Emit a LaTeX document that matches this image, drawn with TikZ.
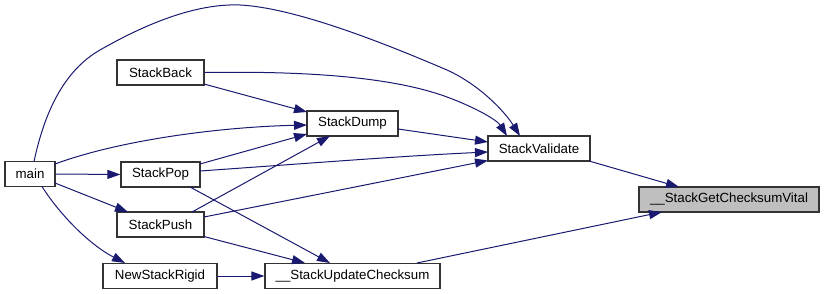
\documentclass[tikz,border=0pt]{standalone}
\usepackage{fontspec}
\setmainfont{Liberation Sans}
\usetikzlibrary{arrows.meta,calc}
\definecolor{edgeblue}{HTML}{191970}
\definecolor{boxline}{HTML}{333333}
\definecolor{focusfill}{HTML}{BFBFBF}
\begin{document}
\begin{tikzpicture}[x=1pt,y=-1pt,
  fn/.style={draw=boxline,line width=1.2pt,fill=white,inner sep=0pt,
    minimum height=25pt,font=\fontsize{13.3}{16}\selectfont},
  focus/.style={fn,fill=focusfill},
  call/.style={draw=edgeblue,line width=1pt,
    -{Triangle[length=13pt,width=9pt,fill=edgeblue]}}]
\useasboundingbox (0,0) rectangle (824,294);

% functions
\node[fn,minimum width=50pt]  (main)     at (30,174)    {main};
\node[fn,minimum width=79pt]  (pop)      at (160.5,174.5) {StackPop};
\node[fn,minimum width=87pt]  (push)     at (160.5,224.5) {StackPush};
\node[fn,minimum width=114pt] (rigid)    at (160,276)   {NewStackRigid};
\node[fn,minimum width=87pt]  (back)     at (160.5,72.5) {StackBack};
\node[fn,minimum width=91pt]  (dump)     at (352.5,123.5) {StackDump};
\node[fn,minimum width=175pt] (update)   at (352.5,276) {\_\_StackUpdateChecksum};
\node[fn,minimum width=102pt] (validate) at (539,148.5) {StackValidate};
\node[focus,minimum width=180pt] (vital) at (729,199.5) {\_\_StackGetChecksumVital};

% calls into __StackGetChecksumVital
\draw[call] ($(validate.center)+(50,12.5)$) -- ($(vital.center)+(-50,-12.5)$);
\draw[call] ($(update.center)+(64.5,-13)$) -- ($(vital.center)+(-67,12.5)$);

% calls into StackValidate
\draw[call] ($(main.center)+(4,-12.5)$)
  .. controls (45,110) and (65,70) .. (100,50)
  .. controls (135,30) and (190,3) .. (240,5)
  .. controls (300,8) and (400,50) .. (447,70)
  .. controls (480,85) and (505,112) .. ($(validate.center)+(-19,-12.5)$);
\draw[call] (back.east)
  .. controls (300,71) and (390,76) .. (447,97)
  .. controls (475,107.3) and (497,120) .. ($(validate.center)+(-32,-12.5)$);
\draw[call] ($(dump.center)+(45.5,5.5)$) -- ($(validate.center)+(-51,-6.5)$);
\draw[call] ($(pop.center)+(39.5,-3.5)$)
  .. controls (300,164) and (400,156) .. ($(validate.center)+(-51,3.5)$);
\draw[call] ($(push.center)+(43.5,-7.5)$)
  .. controls (300,198) and (400,178) .. ($(validate.center)+(-51,12)$);

% calls into StackDump
\draw[call] ($(back.center)+(43.5,11.5)$) -- ($(dump.center)+(-45.5,-11.5)$);
\draw[call] ($(main.center)+(25,-10)$)
  .. controls (120,140) and (220,127) .. ($(dump.center)+(-45.5,1.5)$);
\draw[call] ($(pop.center)+(39.5,-10.5)$) -- ($(dump.center)+(-45.5,10.5)$);
\draw[call] ($(push.center)+(31.5,-12.5)$) -- ($(dump.center)+(-22.5,12.5)$);

% calls from main
\draw[call] (main.east) -- (pop.west);
\draw[call] ($(main.center)+(25,9)$) -- ($(push.center)+(-32.5,-12.5)$);
\draw[call] ($(main.center)+(12,12.5)$)
  .. controls (60,215) and (90,245) .. ($(rigid.center)+(-35,-13)$);

% calls into __StackUpdateChecksum
\draw[call] ($(pop.center)+(29.5,12.5)$) -- ($(update.center)+(-22.5,-13)$);
\draw[call] ($(push.center)+(43.5,12)$) -- ($(update.center)+(-47.5,-13)$);
\draw[call] (rigid.east) -- (update.west);
\end{tikzpicture}
\end{document}
